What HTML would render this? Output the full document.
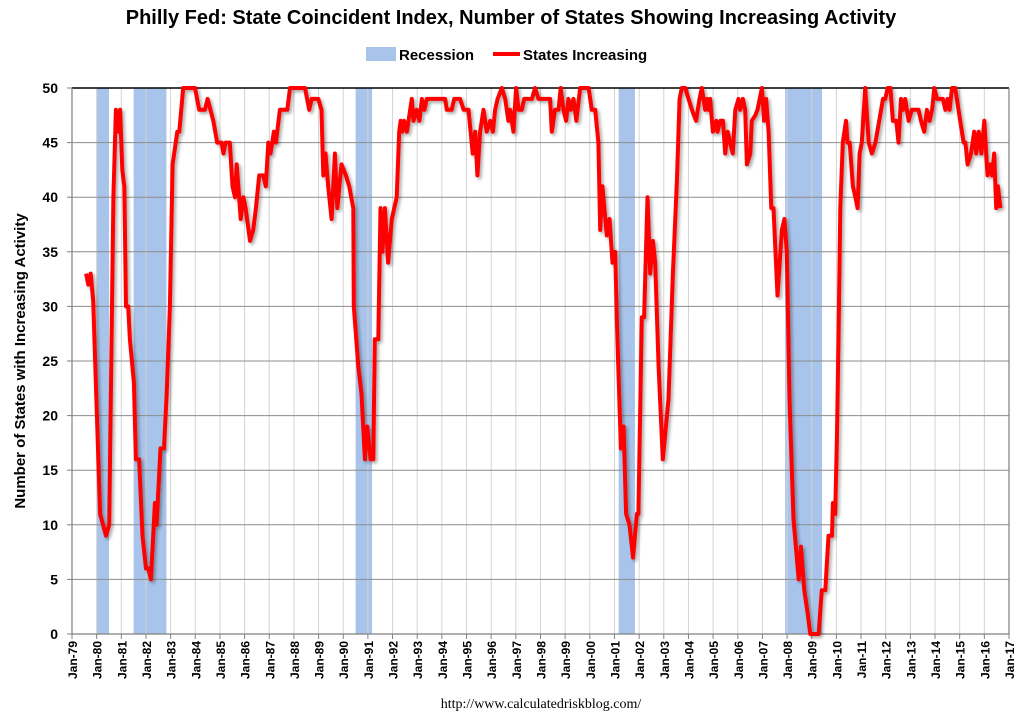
<!DOCTYPE html>
<html><head><meta charset="utf-8"><style>
body{margin:0;background:#fff;}
svg{display:block;font-family:"Liberation Sans",sans-serif;}
</style></head><body>
<svg id="chart" width="1023" height="719" xmlns="http://www.w3.org/2000/svg">
<defs><filter id="sh" x="-5%" y="-5%" width="110%" height="110%"><feDropShadow dx="2" dy="2" stdDeviation="1.5" flood-color="#000" flood-opacity="0.35"/></filter></defs>
<text x="511" y="24" text-anchor="middle" font-size="20" font-weight="bold">Philly Fed: State Coincident Index, Number of States Showing Increasing Activity</text>
<g>
<rect x="366" y="47" width="30" height="14" fill="#a9c4ea"/>
<text x="399" y="60" font-size="15" font-weight="bold">Recession</text>
<line x1="493" y1="54" x2="520" y2="54" stroke="#f00" stroke-width="4"/>
<text x="523" y="60" font-size="15" font-weight="bold">States Increasing</text>
</g>
<text transform="translate(25,361) rotate(-90)" text-anchor="middle" font-size="15" font-weight="bold">Number of States with Increasing Activity</text>
<text x="541" y="708" text-anchor="middle" font-size="14" font-family="Liberation Serif,serif">http://www.calculatedriskblog.com/</text>
<g id="rec"></g><g id="grid"></g><g id="axes"></g><g id="series"></g>
</svg>
<script>
const recStart=[1980.0,1981.5,1990.5,2001.17,2007.92];
const recEnd=[1980.5,1982.83,1991.17,2001.83,2009.42];
const yTicks=[0,5,10,15,20,25,30,35,40,45,50];
const xYears=[];for(let y=1979;y<=2017;y++)xYears.push(y);
const dates=[1979.57,1979.66,1979.76,1979.86,1980.14,1980.38,1980.51,1980.68,1980.78,1980.88,1980.95,1981.04,1981.12,1981.19,1981.28,1981.35,1981.51,1981.59,1981.72,1981.86,1982.0,1982.1,1982.2,1982.36,1982.43,1982.59,1982.73,1982.84,1982.97,1983.08,1983.27,1983.35,1983.51,1983.99,1984.16,1984.39,1984.5,1984.73,1984.89,1985.07,1985.14,1985.23,1985.4,1985.51,1985.61,1985.68,1985.84,1985.95,1986.04,1986.22,1986.35,1986.46,1986.59,1986.76,1986.86,1986.96,1987.05,1987.19,1987.27,1987.43,1987.73,1987.84,1988.45,1988.62,1988.72,1988.99,1989.12,1989.19,1989.28,1989.39,1989.53,1989.66,1989.76,1989.93,1990.11,1990.24,1990.41,1990.43,1990.61,1990.74,1990.88,1990.97,1991.11,1991.22,1991.28,1991.42,1991.51,1991.59,1991.69,1991.82,1991.97,1992.17,1992.27,1992.33,1992.4,1992.47,1992.58,1992.78,1992.85,1992.98,1993.09,1993.19,1993.29,1993.39,1994.13,1994.2,1994.4,1994.5,1994.74,1994.88,1995.08,1995.25,1995.35,1995.44,1995.55,1995.69,1995.82,1995.96,1996.07,1996.16,1996.26,1996.43,1996.57,1996.7,1996.77,1996.9,1997.01,1997.11,1997.24,1997.34,1997.65,1997.78,1997.92,1998.39,1998.46,1998.59,1998.73,1998.82,1998.93,1999.04,1999.13,1999.23,1999.34,1999.45,1999.61,1999.95,2000.08,2000.22,2000.35,2000.42,2000.51,2000.69,2000.8,2000.92,2001.03,2001.12,2001.26,2001.37,2001.47,2001.61,2001.75,2001.91,2001.97,2002.11,2002.2,2002.34,2002.45,2002.56,2002.65,2002.79,2002.96,2003.19,2003.37,2003.53,2003.64,2003.73,2003.87,2004.14,2004.31,2004.45,2004.54,2004.68,2004.75,2004.82,2004.88,2004.99,2005.13,2005.18,2005.29,2005.4,2005.49,2005.59,2005.69,2005.8,2005.9,2006.03,2006.1,2006.21,2006.3,2006.37,2006.51,2006.57,2006.71,2006.8,2006.98,2007.07,2007.15,2007.25,2007.36,2007.45,2007.61,2007.79,2007.89,2007.99,2008.1,2008.26,2008.47,2008.56,2008.7,2008.83,2008.94,2009.28,2009.41,2009.55,2009.68,2009.82,2009.86,2009.95,2010.02,2010.09,2010.16,2010.26,2010.39,2010.45,2010.54,2010.67,2010.77,2010.86,2010.94,2011.03,2011.17,2011.31,2011.44,2011.58,2011.89,2011.98,2012.08,2012.19,2012.29,2012.43,2012.52,2012.62,2012.7,2012.79,2012.93,2013.06,2013.33,2013.43,2013.56,2013.67,2013.78,2013.88,2013.97,2014.08,2014.32,2014.42,2014.51,2014.59,2014.69,2014.82,2015.02,2015.16,2015.23,2015.32,2015.46,2015.59,2015.67,2015.77,2015.88,2016.0,2016.13,2016.24,2016.31,2016.4,2016.48,2016.55,2016.65];
const values=[33,32,33,30.5,11,9,10,40,48,46,48,42.5,41,30,30,27,23,16,16,9,6,6,5,12,10,17,17,22,30,43,46,46,50,50,48,48,49,47,45,45,44,45,45,41,40,43,38,40,39,36,37,39,42,42,41,45,44,46,45,48,48,50,50,48,49,49,48,42,44,41,38,44,39,43,42,41,39,30,24.5,22,16,19,16,16,27,27,39,35,39,34,38,40,46,47,46,47,46,49,47,48,47,49,48,49,49,48,48,49,49,48,48,44,46,42,46,48,46,47,46,48,49,50,49,47,48,46,50,48,48,49,49,50,49,49,46,48,48,50,48,47,49,48,49,47,50,50,48,48,45,37,41,36.5,38,34,35,27,17,19,11,10,7,11,11,29,29,40,33,36,34,24.5,16,21.5,33,41.5,49,50,50,48,47,49,50,48,49,48,49,46,47,46,47,47,44,46,45,44,48,49,48,49,48,43,44,47,47.5,48,50,47,49,46,39,39,31,37,38,35,21.5,10.5,5,8,4,2,0,0,4,4,9,9,12,11,17.8,27.6,39,45,47,45,45,41,40,39,44,45,50,45,44,45,49,49,50,50,47,47,45,49,48,49,47,48,48,47,46,48,47,48,50,49,49,48,49,48,50,50,47,45,45,43,44,46,44,46,44,47,42,43,42,44,39,41,39];
const NS='http://www.w3.org/2000/svg';
const L=72,R=1009,T=88,B=634;
const xs=y=>L+(y-1979)*(R-L)/38;
const ys=v=>B-v*(B-T)/50;
function mk(p,t,a){const e=document.createElementNS(NS,t);for(const k in a)e.setAttribute(k,a[k]);p.appendChild(e);return e;}
const recG=document.getElementById('rec'),gridG=document.getElementById('grid'),axesG=document.getElementById('axes'),serG=document.getElementById('series');
recStart.forEach((s,i)=>{const r=mk(recG,'rect',{x:xs(s),y:T,width:xs(recEnd[i])-xs(s),height:B-T,fill:'#a9c4ea'});

});
xYears.forEach(y=>{if(y>1979&&y<2017){const l=mk(gridG,'line',{x1:xs(y),x2:xs(y),y1:T,y2:B,stroke:'#d4d4d4','stroke-width':1});

}
const t=mk(axesG,'line',{x1:xs(y),x2:xs(y),y1:B,y2:B+5,stroke:'#808080'});


const lb=mk(axesG,'text',{transform:`translate(${xs(y)+5},${B+7}) rotate(-90)`,'text-anchor':'end','font-size':12,'font-weight':'bold'});
lb.textContent='Jan-'+String(y%100).padStart(2,'0');

});
yTicks.forEach(v=>{if(v>0&&v<50){const l=mk(gridG,'line',{x1:L,x2:R,y1:ys(v),y2:ys(v),stroke:'#8c8c8c','stroke-width':1});

}
const t=mk(axesG,'line',{x1:L-5,x2:L,y1:ys(v),y2:ys(v),stroke:'#808080'});


const lb=mk(axesG,'text',{x:L-14,y:ys(v)+5,'text-anchor':'end','font-size':14,'font-weight':'bold'});
lb.textContent=v;

});
const topBorder=mk(axesG,'line',{x1:L,x2:R,y1:T,y2:T,stroke:'#000','stroke-width':1.5});


const axFrame=mk(axesG,'path',{d:`M${L},${T}V${B}H${R}V${T}`,fill:'none',stroke:'#808080','stroke-width':1.2});


const seriesLine=mk(serG,'polyline',{points:dates.map((d,i)=>xs(d).toFixed(1)+','+ys(values[i]).toFixed(1)).join(' '),fill:'none',stroke:'#f00','stroke-width':4,'stroke-linejoin':'round',filter:'url(#sh)'});


</script>
</body></html>
